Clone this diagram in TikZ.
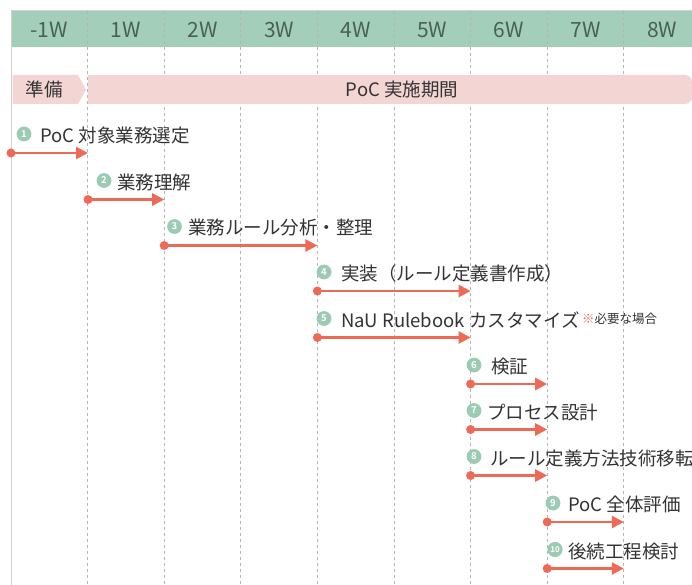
\documentclass[tikz,border=0pt]{standalone}
\usepackage{fontspec}
\setmainfont{Noto Sans CJK JP}
\newfontfamily\numfont{Noto Sans CJK JP Bold}
\usetikzlibrary{arrows.meta}
\definecolor{hdrgreen}{HTML}{A3CFBA}
\definecolor{numgreen}{HTML}{9CCBB3}
\definecolor{hdrtext}{HTML}{4A6152}
\definecolor{bandpink}{HTML}{F3D6D3}
\definecolor{arrowred}{HTML}{EE6A57}
\definecolor{gridgray}{HTML}{B5B5B5}
\definecolor{framegray}{HTML}{D0D0D0}
\definecolor{textdark}{HTML}{333333}
\tikzset{
  hdr/.style={font=\fontsize{21}{21}\selectfont, text=hdrtext, inner sep=0},
  bandtext/.style={font=\fontsize{18.5}{18.5}\selectfont, text=textdark, inner sep=0},
  tasklabel/.style={anchor=west, inner sep=0, font=\fontsize{18.5}{18.5}\selectfont, text=textdark},
  numdisc/.style={fill=numgreen},
  numtext/.style={inner sep=0pt, text=white, font=\numfont\fontsize{9.5}{9.5}\selectfont},
  startdot/.style={circle, fill=arrowred, inner sep=0, minimum width=9pt, minimum height=9pt},
  bar/.style={draw=arrowred, line width=2.5pt, -{Triangle[length=12pt,width=12pt,fill=arrowred]}},
  gridline/.style={draw=gridgray, dash pattern=on 3pt off 3pt, line width=0.9pt},
  frameline/.style={draw=framegray, line width=1.5pt},
  notetext/.style={anchor=west, inner sep=0, font=\fontsize{12.5}{12.5}\selectfont, text=textdark}
}
\begin{document}
\begin{tikzpicture}[x=1pt,y=-1pt]
\clip (0,0) rectangle (692,585);
\fill[white] (0,0) rectangle (692,585);
% header band
\fill[hdrgreen] (11,11) rectangle (692,47.5);
% grid lines
\foreach \i in {1,...,8}{
  \coordinate (gt\i) at ({11+76.6*\i},11);
  \coordinate (gb\i) at ({11+76.6*\i},585);
  \draw[gridline] (gt\i) -- (gb\i);
}
% frame
\coordinate (tl) at (11.5,10.5);
\coordinate (tr) at (692,10.5);
\coordinate (bl) at (11.5,585);
\draw[frameline] (bl) -- (tl) -- (tr);
% header labels
\foreach \i/\lab in {0/-1W,1/1W,2/2W,3/3W,4/4W,5/5W,6/6W,7/7W,8/8W}{
  \node[hdr] (h\i) at ({49.3+76.6*\i},30) {\lab};
}
% phase bands
\fill[bandpink] (12.5,75) -- (78,75) -- (86,89.5) -- (78,104) -- (12.5,104) -- cycle;
\fill[bandpink] (88,75) rectangle (680,104);
\fill[bandpink, rounded corners=7pt] (600,75) -- (692,75) -- (692,104) -- (600,104) -- cycle;
\node[bandtext] (prep) at (44,89.5) {準備};
\node[bandtext] (poc) at (402,89.5) {PoC 実施期間};
% tasks
\foreach \n/\cx/\tx/\ly/\sx/\ex/\txt in {
  1/24/40/135.5/11/88/{PoC 対象業務選定},
  2/104/117/182/88/164.2/{業務理解},
  3/174.5/188/228/164.2/317.4/{業務ルール分析・整理},
  4/324/341/273.5/317.4/470.6/{実装（ルール定義書作成）},
  5/324/341/320/317.4/470.6/{NaU Rulebook カスタマイズ},
  6/474/491/366.5/470.6/547.2/{検証},
  7/474/487/412/470.6/547.2/{プロセス設計},
  8/474/490/458/470.6/547.2/{ルール定義方法技術移転},
  9/553/568/504.5/547.2/623.8/{PoC 全体評価}}{
  \fill[numdisc] (\cx,\ly-1.5) circle[radius=7.4pt];
  \node[numtext] (n\n) at (\cx,\ly-1.5) {\n};
  \node[tasklabel] (t\n) at (\tx,\ly) {\txt};
  \node[startdot] (s\n) at (\sx,\ly+17.5) {};
  \coordinate (e\n) at (\ex,\ly+17.5);
  \draw[bar] (s\n.center) -- (e\n);
}
% task 10
\fill[numdisc] (555,549.5) circle[radius=7.6pt];
\node[numtext, font=\numfont\fontsize{8}{8}\selectfont] (n10) at (555,549.5) {10};
\node[tasklabel] (t10) at (568,551) {後続工程検討};
\node[startdot] (s10) at (547.2,568.5) {};
\coordinate (e10) at (623.8,568.5);
\draw[bar] (s10.center) -- (e10);
% note
\node[notetext] (note) at (582,319) {\textcolor{arrowred}{※}必要な場合};
\end{tikzpicture}
\end{document}
